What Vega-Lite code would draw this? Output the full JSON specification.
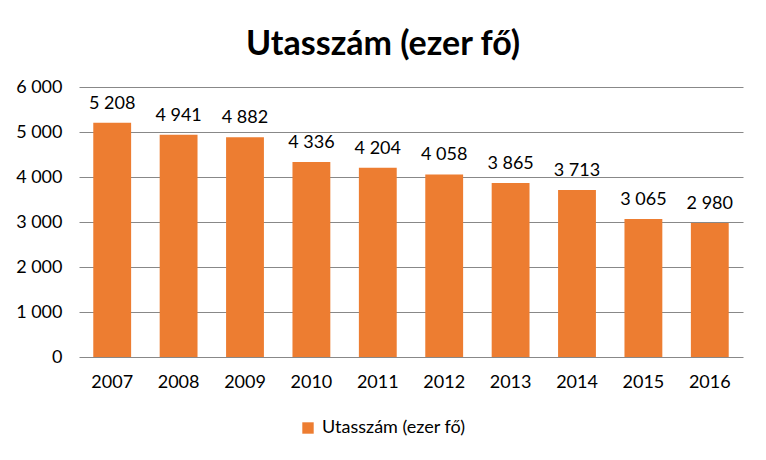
{
  "$schema": "https://vega.github.io/schema/vega-lite/v6.json",
  "width": 664,
  "height": 270,
  "autosize": {"type": "none"},
  "padding": {"left": 79, "top": 87, "right": 23, "bottom": 103},
  "background": "white",
  "config": {
    "font": "Lato",
    "view": {"stroke": null},
    "locale": {"number": {"decimal": ",", "thousands": " ", "grouping": [3], "currency": ["", " Ft"]}}
  },
  "title": {
    "text": "Utasszám (ezer fő)",
    "font": "Lato",
    "fontSize": 34,
    "fontWeight": "bold",
    "color": "#000000",
    "anchor": "middle",
    "dx": -28,
    "offset": 16
  },
  "data": {
    "values": [
      {"ev": "2007", "utasszam": 5208, "sorozat": "Utasszám (ezer fő)"},
      {"ev": "2008", "utasszam": 4941, "sorozat": "Utasszám (ezer fő)"},
      {"ev": "2009", "utasszam": 4882, "sorozat": "Utasszám (ezer fő)"},
      {"ev": "2010", "utasszam": 4336, "sorozat": "Utasszám (ezer fő)"},
      {"ev": "2011", "utasszam": 4204, "sorozat": "Utasszám (ezer fő)"},
      {"ev": "2012", "utasszam": 4058, "sorozat": "Utasszám (ezer fő)"},
      {"ev": "2013", "utasszam": 3865, "sorozat": "Utasszám (ezer fő)"},
      {"ev": "2014", "utasszam": 3713, "sorozat": "Utasszám (ezer fő)"},
      {"ev": "2015", "utasszam": 3065, "sorozat": "Utasszám (ezer fő)"},
      {"ev": "2016", "utasszam": 2980, "sorozat": "Utasszám (ezer fő)"}
    ]
  },
  "encoding": {
    "x": {
      "field": "ev",
      "type": "nominal",
      "scale": {"paddingInner": 0.43, "paddingOuter": 0.215},
      "axis": {
        "title": null,
        "labelAngle": 0,
        "labelFont": "Lato",
        "labelFontSize": 18,
        "labelColor": "#000000",
        "labelPadding": 16,
        "ticks": false,
        "domain": false
      }
    },
    "y": {
      "field": "utasszam",
      "type": "quantitative",
      "scale": {"domain": [0, 6000], "nice": false},
      "axis": {
        "title": null,
        "values": [0, 1000, 2000, 3000, 4000, 5000, 6000],
        "format": ",d",
        "labelFont": "Lato",
        "labelFontSize": 18,
        "labelColor": "#000000",
        "labelPadding": 17,
        "ticks": false,
        "domain": false,
        "grid": true,
        "gridColor": "#888888",
        "gridWidth": 1
      }
    }
  },
  "layer": [
    {
      "mark": {"type": "bar"},
      "encoding": {
        "color": {
          "field": "sorozat",
          "type": "nominal",
          "scale": {"range": ["#ED7D31"]},
          "legend": {
            "title": null,
            "orient": "none",
            "legendX": 220,
            "legendY": 332,
            "symbolType": "square",
            "symbolSize": 130,
            "symbolStrokeWidth": 0,
            "labelFont": "Lato",
            "labelFontSize": 18,
            "labelColor": "#000000",
            "labelOffset": 5
          }
        }
      }
    },
    {
      "mark": {"type": "text", "baseline": "alphabetic", "dy": -14, "fontSize": 18, "font": "Lato", "color": "#000000"},
      "encoding": {
        "text": {"field": "utasszam", "type": "quantitative", "format": ",d"}
      }
    }
  ]
}
